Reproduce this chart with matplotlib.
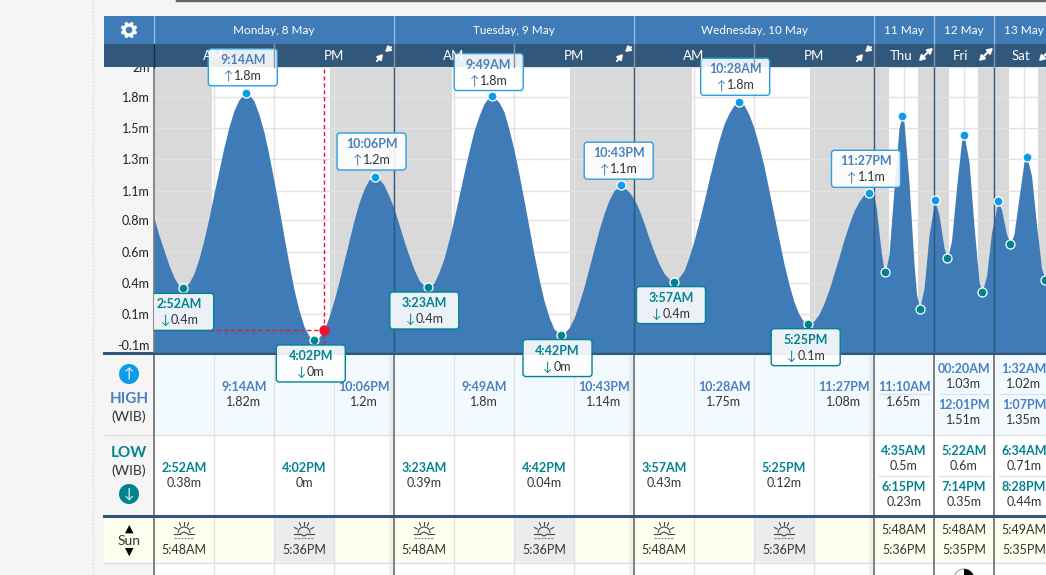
# libraries
import numpy as np
import matplotlib
matplotlib.use('Agg')
import matplotlib.pyplot as plt
from matplotlib.patches import Rectangle, FancyBboxPatch, Circle, Wedge, Arc

plt.rcParams['font.family'] = ['Lato', 'DejaVu Sans']

# tide curve, hours since Monday 00:00, metres
tide_hours = [0, 0.5, 1, 1.5, 2, 2.5, 2.87, 3.5, 4, 4.5, 5, 5.5, 6, 6.5, 7, 7.5, 8, 8.5, 9, 9.23,
              9.5, 10, 10.5, 11, 11.5, 12, 12.5, 13, 13.5, 14, 14.5, 15, 15.5, 16.03,
              16.5, 17, 17.5, 18, 18.5, 19, 19.5, 20, 20.5, 21, 21.5, 22.1,
              22.5, 23, 23.5, 24, 24.5, 25, 25.5, 26, 26.5, 27, 27.38,
              28, 28.5, 29, 29.5, 30, 30.5, 31, 31.5, 32, 32.5, 33, 33.5, 33.82,
              34.5, 35, 35.5, 36, 36.5, 37, 37.5, 38, 38.5, 39, 39.5, 40, 40.7,
              41, 41.5, 42, 42.5, 43, 43.5, 44, 44.5, 45, 45.5, 46, 46.72,
              47.5, 48, 48.5, 49, 49.5, 50, 50.5, 51, 51.5, 51.95,
              52.5, 53, 53.5, 54, 54.5, 55, 55.5, 56, 56.5, 57, 57.5, 58, 58.47,
              59, 59.5, 60, 60.5, 61, 61.5, 62, 62.5, 63, 63.5, 64, 64.5, 65, 65.42,
              66, 66.5, 67, 67.5, 68, 68.5, 69, 69.5, 70, 70.5, 71, 71.45,
              72, 73, 74, 75, 76, 76.58, 78, 80, 82, 83.17, 84, 86, 88, 89, 90.25, 92, 94, 96.33,
              98, 100, 101.37, 103, 105, 107, 108.02, 110, 112, 114, 115.23, 117, 119, 121.53,
              123, 125, 126.57, 128, 130, 132, 133.12, 135, 137, 139, 140.47, 140.8]
tide_levels = [0.90, 0.77, 0.66, 0.55, 0.46, 0.40, 0.38, 0.42, 0.49, 0.60, 0.74, 0.90, 1.08, 1.25, 1.42, 1.57, 1.69, 1.77, 1.81, 1.82,
               1.81, 1.76, 1.66, 1.53, 1.36, 1.17, 0.97, 0.76, 0.56, 0.37, 0.22, 0.10, 0.03, 0.00,
               0.02, 0.07, 0.17, 0.29, 0.43, 0.58, 0.73, 0.88, 1.01, 1.11, 1.18, 1.20,
               1.19, 1.14, 1.06, 0.97, 0.85, 0.73, 0.62, 0.52, 0.44, 0.40, 0.39,
               0.42, 0.50, 0.60, 0.74, 0.89, 1.06, 1.23, 1.39, 1.54, 1.65, 1.74, 1.79, 1.80,
               1.75, 1.68, 1.55, 1.40, 1.22, 1.03, 0.83, 0.63, 0.45, 0.29, 0.17, 0.08, 0.04,
               0.05, 0.09, 0.16, 0.27, 0.39, 0.53, 0.67, 0.81, 0.93, 1.03, 1.10, 1.14,
               1.09, 1.04, 0.96, 0.86, 0.75, 0.65, 0.56, 0.49, 0.45, 0.43,
               0.46, 0.51, 0.61, 0.73, 0.87, 1.02, 1.18, 1.33, 1.47, 1.59, 1.67, 1.73, 1.75,
               1.73, 1.66, 1.56, 1.43, 1.28, 1.10, 0.92, 0.74, 0.56, 0.41, 0.28, 0.19, 0.13, 0.12,
               0.14, 0.19, 0.27, 0.37, 0.49, 0.61, 0.74, 0.85, 0.95, 1.02, 1.07, 1.08,
               1.06, 0.96, 0.79, 0.63, 0.52, 0.50, 0.63, 1.11, 1.56, 1.65, 1.60, 1.16, 0.56, 0.34, 0.23, 0.38, 0.77, 1.03,
               0.92, 0.68, 0.60, 0.73, 1.12, 1.46, 1.51, 1.31, 0.84, 0.43, 0.35, 0.47, 0.79, 1.02,
               0.96, 0.78, 0.71, 0.78, 1.05, 1.31, 1.35, 1.21, 0.85, 0.53, 0.44, 0.45]

high_hours = [9.23, 22.1, 33.82, 46.72, 58.47, 71.45, 83.17, 96.33, 108.02, 121.53, 133.12]
high_levels = [1.82, 1.2, 1.8, 1.14, 1.75, 1.08, 1.65, 1.03, 1.51, 1.02, 1.35]
low_hours = [2.87, 16.03, 27.38, 40.7, 51.95, 65.42, 76.58, 90.25, 101.37, 115.23, 126.57, 140.47]
low_levels = [0.38, 0, 0.39, 0.04, 0.43, 0.12, 0.5, 0.23, 0.6, 0.35, 0.71, 0.44]

high_times = ['9:14AM', '10:06PM', '9:49AM', '10:43PM', '10:28AM', '11:27PM', '11:10AM', '00:20AM', '12:01PM', '1:32AM', '1:07PM']
high_labels = ['1.82m', '1.2m', '1.8m', '1.14m', '1.75m', '1.08m', '1.65m', '1.03m', '1.51m', '1.02m', '1.35m']
low_times = ['2:52AM', '4:02PM', '3:23AM', '4:42PM', '3:57AM', '5:25PM', '4:35AM', '6:15PM', '5:22AM', '7:14PM', '6:34AM', '8:28PM']
low_labels = ['0.38m', '0m', '0.39m', '0.04m', '0.43m', '0.12m', '0.5m', '0.23m', '0.6m', '0.35m', '0.71m', '0.44m']

high_box_labels = ['1.8m', '1.2m', '1.8m', '1.1m', '1.8m', '1.1m']
low_box_labels = ['0.4m', '0m', '0.4m', '0m', '0.4m', '0.1m']

night_spans = [(0, 5.8), (17.6, 29.8), (41.6, 53.8), (65.6, 77.8), (89.6, 101.8), (113.6, 125.8), (137.6, 140.8)]

y_ticks = [-0.04, 0.19, 0.42, 0.65, 0.88, 1.10, 1.33, 1.56, 1.79, 2.01]
y_tick_labels = ['-0.1m', '0.1m', '0.4m', '0.6m', '0.8m', '1.1m', '1.3m', '1.5m', '1.8m', '2m']

day_labels = ['Monday, 8 May', 'Tuesday, 9 May', 'Wednesday, 10 May', '11 May', '12 May', '13 May']
short_days = ['Thu', 'Fri', 'Sat']
sun_rise = ['5:48AM', '5:48AM', '5:48AM', '5:48AM', '5:48AM', '5:49AM']
sun_set = ['5:36PM', '5:36PM', '5:36PM', '5:36PM', '5:35PM', '5:35PM']

cursor_hour = 17
cursor_level = 0.07

# colours
blue = '#3f7bb6'
dark_blue = '#31587a'
sky = '#0c9be6'
teal = '#00838f'
time_blue = '#4a80bf'
text_col = '#333333'
grid_col = '#e2e2e2'
page_col = '#f5f5f5'

# where things go, in pixels of the picture
W, H = 1046, 575
day_edges = [154, 394, 634, 874, 934, 994]
high_pos = [(244, 387), (364, 387), (484, 387), (604, 387), (724, 387), (844, 387),
            (904, 387), (964, 369), (964, 405), (1024, 369), (1024, 405)]
low_pos = [(184, 468), (304, 468), (424, 468), (544, 468), (664, 468), (784, 468),
           (904, 451), (904, 487), (964, 451), (964, 487), (1024, 451), (1024, 487)]
# callout top-left corner relative to its point
high_box = [(-38, -44), (-38, -44), (-38, -42), (-37, -43), (-38, -44), (-37, -43)]
low_box = [(-38, 5), (-38, 5), (-38, 5), (-38, 5), (-37, 5), (-37, 5)]
box_w, box_h = 69, 37

fig = plt.figure(figsize=(W / 100, H / 100), dpi=100, facecolor=page_col)


def full_axes(z):
    a = fig.add_axes([0, 0, 1, 1], zorder=z)
    a.set_xlim(0, W)
    a.set_ylim(H, 0)
    a.axis('off')
    a.patch.set_alpha(0)
    return a


page = full_axes(0)
over = full_axes(2)

# tables behind the chart
page.plot([93, 93], [0, H], color='#dddddd', lw=1, ls=':')
page.plot([177, W], [0, 0], color='#666666', lw=2.5)
page.add_patch(Rectangle((154, 353), W - 154, 81, color='#f3faff', lw=0))
page.add_patch(Rectangle((154, 435), W - 154, 81, color='white', lw=0))
page.add_patch(Rectangle((104, 517), W - 104, 45, color='#fefeef', lw=0))
page.add_patch(Rectangle((154, 563), W - 154, 12, color='white', lw=0))
for x in [274, 514, 754]:
    page.add_patch(Rectangle((x, 517), 60, 45, color='#ececec', lw=0))
for y in [434.5, 562.5]:
    page.plot([104, W], [y, y], color=grid_col, lw=1)
for x in [214, 274, 334, 454, 514, 574, 694, 754, 814]:
    page.plot([x, x], [353, H], color=grid_col, lw=1)
for x in day_edges:
    page.plot([x, x], [353, H], color='#777777', lw=1.3)
    if x in (394, 634, 874):
        page.add_patch(Rectangle((x - 5, 353), 5, H - 353, color='#888888', alpha=0.12, lw=0))
page.plot([104, W], [352.5, 352.5], color=dark_blue, lw=2.2)
page.plot([104, W], [516, 516], color=dark_blue, lw=2.2)
for x in [879, 939, 999]:
    page.plot([x, x + 51], [394, 394], color=grid_col, lw=1)
    page.plot([x, x + 51], [475.5, 475.5], color=grid_col, lw=1)

for (x, y), t, v in zip(high_pos, high_times, high_labels):
    page.text(x, y, t, color=time_blue, fontsize=9, fontweight='bold', ha='center', va='center')
    page.text(x, y + 15, v, color=text_col, fontsize=9, ha='center', va='center')
for (x, y), t, v in zip(low_pos, low_times, low_labels):
    page.text(x, y, t, color=teal, fontsize=9, fontweight='bold', ha='center', va='center')
    page.text(x, y + 15, v, color=text_col, fontsize=9, ha='center', va='center')

# left column
page.add_patch(Circle((129, 374), 10, color=sky, lw=0))
page.text(129, 374, '↑', color='white', fontsize=10, ha='center', va='center')
page.text(129, 399, 'HIGH', color=time_blue, fontsize=11, fontweight='bold', ha='center', va='center')
page.text(129, 417, '(WIB)', color=text_col, fontsize=10, ha='center', va='center')
page.text(129, 453, 'LOW', color=teal, fontsize=11, fontweight='bold', ha='center', va='center')
page.text(129, 471, '(WIB)', color=text_col, fontsize=10, ha='center', va='center')
page.add_patch(Circle((129, 494), 10, color=teal, lw=0))
page.text(129, 494, '↓', color='white', fontsize=10, ha='center', va='center')
page.text(129, 528, '▲', color='black', fontsize=8, ha='center', va='center')
page.text(129, 541, 'Sun', color=text_col, fontsize=10, ha='center', va='center')
page.text(129, 551, '▼', color='black', fontsize=8, ha='center', va='center')


def sun_icon(x, rising):
    y = 533
    page.add_patch(Arc((x, y), 12, 12, theta1=180, theta2=360, color='#444444', lw=0.8))
    for a in [-150, -115, -90, -65, -30]:
        c, s = np.cos(np.radians(a)), np.sin(np.radians(a))
        page.plot([x + 8 * c, x + 11 * c], [y + 8 * s, y + 11 * s], color='#444444', lw=0.8)
    page.plot([x - 10, x - 4], [y + 1, y + 1], color='#444444', lw=0.8)
    page.plot([x + 4, x + 10], [y + 1, y + 1], color='#444444', lw=0.8)
    dip = -2 if rising else 2
    page.plot([x - 4, x, x + 4], [y + 1, y + 1 + dip, y + 1], color='#444444', lw=0.8)
    page.plot([x - 10, x + 10], [y + 5, y + 5], color='#888888', lw=0.8, ls=(0, (2, 1)))


for i in range(3):
    left = day_edges[i]
    sun_icon(left + 30, True)
    page.text(left + 30, 550, sun_rise[i], color=text_col, fontsize=9, ha='center', va='center')
    sun_icon(left + 150, False)
    page.text(left + 150, 550, sun_set[i], color=text_col, fontsize=9, ha='center', va='center')
for i in range(3):
    x = day_edges[i + 3] + 30
    page.text(x, 530, sun_rise[i + 3], color=text_col, fontsize=9, ha='center', va='center')
    page.text(x, 550, sun_set[i + 3], color=text_col, fontsize=9, ha='center', va='center')

# moon, cut off by the bottom of the picture
page.add_patch(Circle((964, 579), 10, facecolor='white', edgecolor='#999999', lw=0.8))
page.add_patch(Wedge((964, 579), 10, -90, 90, color='black', lw=0))
page.set_ylim(H, 0)

# the tide chart: each of the first 3 days is 240px wide, the others 60px
map_hours = [0, 24, 48, 72, 96, 120, 144]
map_px = [154, 394, 634, 874, 934, 994, 1054]


def to_px(v):
    return np.interp(v, map_hours, map_px)


def from_px(v):
    return np.interp(v, map_px, map_hours)


chart = fig.add_axes([154 / W, (H - 352.2) / H, (W - 154) / W, 285.2 / H], zorder=1)
chart.set_xscale('function', functions=(to_px, from_px))
chart.set_xlim(0, 140.8)
chart.set_ylim(-0.09, 2.007)
chart.set_xticks([])
chart.minorticks_off()
chart.set_yticks(y_ticks, y_tick_labels, fontsize=9, color='#222222')
chart.tick_params(axis='y', length=0, pad=3)
chart.tick_params(axis='x', which='both', length=0)
for s in ['top', 'right', 'bottom']:
    chart.spines[s].set_visible(False)
chart.spines['left'].set_color('#777777')
chart.spines['left'].set_linewidth(1.2)
chart.set_axisbelow(False)

for a, b in night_spans:
    chart.axvspan(a, b, color='#d9d9d9', lw=0, zorder=1)
for v in y_ticks:
    chart.axhline(v, color=grid_col, lw=1, zorder=2)
for h in [6, 12, 18, 30, 36, 42, 54, 60, 66, 84, 108, 132]:
    chart.axvline(h, color=grid_col, lw=1, zorder=2)
chart.fill_between(tide_hours, tide_levels, -0.09, color=blue, lw=0, zorder=3)
for h in [24, 48, 72, 96, 120]:
    chart.axvline(h, color=dark_blue, lw=1, zorder=4)

chart.scatter(high_hours, high_levels, s=42, color=sky, edgecolor='white', lw=0.9, zorder=6, clip_on=False)
chart.scatter(low_hours, low_levels, s=42, color=teal, edgecolor='white', lw=0.9, zorder=6, clip_on=False)

# red cursor
chart.plot([cursor_hour, cursor_hour], [cursor_level, 2.007], color='#f01030', lw=1, ls=(0, (3, 2)), zorder=5)
chart.plot([cursor_hour, cursor_hour], [-0.09, cursor_level], color='#f01030', lw=1, ls=(0, (3, 2)), zorder=5)
chart.plot([0, cursor_hour], [cursor_level, cursor_level], color='#f01030', lw=1, ls=(0, (3, 2)), zorder=5)
chart.scatter([cursor_hour], [cursor_level], s=42, color='#f01030', zorder=7, clip_on=False)

# header on top of the chart
over.add_patch(Rectangle((104, 16), W - 104, 28, color=blue, lw=0))
over.add_patch(Rectangle((104, 44), W - 104, 23, color=dark_blue, lw=0))

# gear icon
over.add_patch(Circle((129, 30), 5, facecolor='none', edgecolor='white', lw=2.4))
for a in np.arange(0, 360, 45):
    c, s = np.cos(np.radians(a + 22.5)), np.sin(np.radians(a + 22.5))
    over.plot([129 + 6 * c, 129 + 8.3 * c], [30 + 6 * s, 30 + 8.3 * s], color='white', lw=2.2, solid_capstyle='butt')

for x in [154, 394, 634, 874, 934, 994]:
    over.plot([x, x], [16, 44], color='#9dbcdc', lw=1)
    over.plot([x, x], [44, 67], color='#7f97ad' if x != 154 else '#16293a', lw=1)
for x in [274, 514, 754]:
    over.plot([x, x], [44, 67], color='#7f97ad', lw=1)
day_x = [274, 514, 754, 904, 964, 1024]
for x, d in zip(day_x, day_labels):
    over.text(x, 30, d, color='white', fontsize=8.5, ha='center', va='center')
for left in [154, 394, 634]:
    over.text(left + 60, 56, 'AM', color='white', fontsize=9.5, ha='center', va='center')
    over.text(left + 180, 56, 'PM', color='white', fontsize=9.5, ha='center', va='center')
for left, d in zip(day_edges[3:], short_days):
    over.text(left + 27, 56, d, color='white', fontsize=9.5, ha='center', va='center')


def arrow_icon(x, inward):
    arrow = dict(arrowstyle='-|>,head_width=0.18,head_length=0.3', color='white', lw=1.4, shrinkA=0, shrinkB=0)
    if inward:
        over.annotate('', xy=(x - 1, 54), xytext=(x - 7, 61), arrowprops=arrow, annotation_clip=False)
        over.annotate('', xy=(x + 1, 52), xytext=(x + 7, 47), arrowprops=arrow, annotation_clip=False)
    else:
        over.annotate('', xy=(x - 7, 61), xytext=(x, 54), arrowprops=arrow, annotation_clip=False)
        over.annotate('', xy=(x + 7, 48), xytext=(x, 54), arrowprops=arrow, annotation_clip=False)


for left in [154, 394, 634]:
    arrow_icon(left + 230, True)
for left in day_edges[3:]:
    arrow_icon(left + 52, False)

# callouts sit on top of everything, placed relative to their points
box_clip = Rectangle((154, 0), W - 154, H, transform=over.transData)


def data_to_page(h, v):
    px, py = chart.transData.transform((h, v))
    return px * W / fig.bbox.width, H - py * H / fig.bbox.height


def callout(h, v, off, time, value, edge, time_col, arrow):
    px, py = data_to_page(h, v)
    x0, y0 = px + off[0], py + off[1]
    face = FancyBboxPatch((x0 + 2, y0 + 2), box_w - 4, box_h - 4, boxstyle='round,pad=2,rounding_size=3',
                          facecolor='white', edgecolor='none', alpha=0.9)
    line = FancyBboxPatch((x0 + 2, y0 + 2), box_w - 4, box_h - 4, boxstyle='round,pad=2,rounding_size=3',
                          facecolor='none', edgecolor=edge, lw=1)
    over.add_patch(face)
    over.add_patch(line)
    face.set_clip_path(box_clip)
    line.set_clip_path(box_clip)
    xc = x0 + box_w / 2
    value_w = 16 if value == '0m' else 25
    line_left = xc - (value_w + 8) / 2
    over.text(xc, y0 + 11, time, color=time_col, fontsize=9, fontweight='bold', ha='center', va='center')
    over.text(line_left + 2.5, y0 + 27, arrow, color=time_col, fontsize=9, ha='center', va='center')
    over.text(line_left + 8, y0 + 27, value, color=text_col, fontsize=9, ha='left', va='center')


for i in range(6):
    callout(high_hours[i], high_levels[i], high_box[i], high_times[i], high_box_labels[i], '#2a9fe0', time_blue, '↑')
    callout(low_hours[i], low_levels[i], low_box[i], low_times[i], low_box_labels[i], teal, teal, '↓')

fig.savefig('out.png', dpi=100, facecolor=page_col)
